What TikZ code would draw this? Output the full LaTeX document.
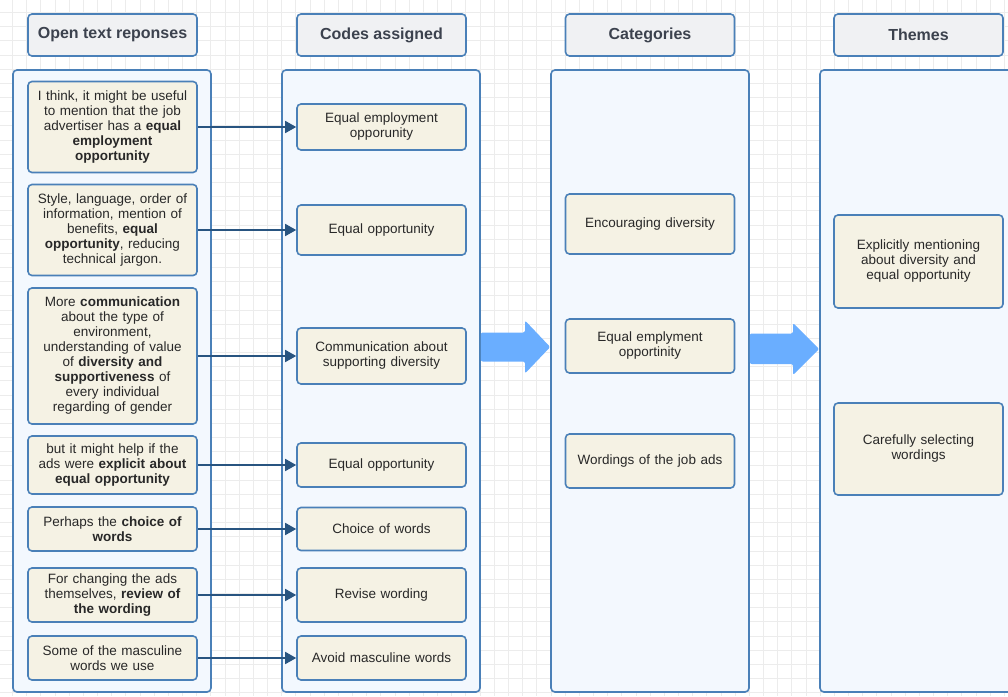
\documentclass[tikz,border=0pt]{standalone}
\usepackage{fontspec}
\setmainfont{Liberation Sans}
\usetikzlibrary{arrows.meta}
\definecolor{laneedge}{RGB}{74,128,184}
\definecolor{lanefill}{RGB}{243,248,254}
\definecolor{headfill}{RGB}{240,241,243}
\definecolor{headtext}{RGB}{60,66,78}
\definecolor{cardfill}{RGB}{245,242,228}
\definecolor{cardtext}{RGB}{40,40,40}
\definecolor{linkblue}{RGB}{40,84,128}
\definecolor{flowblue}{RGB}{106,174,255}
\definecolor{gridgrey}{RGB}{236,236,236}

\begin{document}
\begin{tikzpicture}[x=1pt, y=-1pt, >=Stealth,
    head/.style={draw=laneedge, fill=headfill, line width=1.6pt, rounded corners=4pt, minimum width=169pt, minimum height=42pt, text=headtext, font=\fontsize{16}{18}\selectfont\bfseries},
    lane/.style={draw=laneedge, fill=lanefill, line width=1.6pt, rounded corners=4pt, minimum width=198pt, minimum height=622pt},
    card/.style={draw=laneedge, fill=cardfill, line width=1.6pt, rounded corners=4pt, minimum width=169pt, text width=165pt, inner xsep=2pt, inner ysep=0pt, align=center, text=cardtext, font=\fontsize{13.5}{15}\selectfont},
    link/.style={linkblue, line width=1.6pt, -{Triangle[length=11pt, width=12pt]}},
    flow/.style={fill=flowblue, rounded corners=2pt},
    gridline/.style={gridgrey, line width=0.7pt}]
    \useasboundingbox (0,0) rectangle (1008,696);
    \clip (0,0) rectangle (1008,696);

    % Background grid
    \foreach \gx in {12.4,26.57,...,1008} \draw[gridline] (\gx,0) -- (\gx,696);
    \foreach \gy in {12.4,26.57,...,696} \draw[gridline] (0,\gy) -- (1008,\gy);

    % Column headings
    \node[head] (h1) at (112.5,35) {Open text reponses};
    \node[head] (h2) at (381.5,35) {Codes assigned};
    \node[head] (h3) at (650,35) {Categories};
    \node[head] (h4) at (918.5,35) {Themes};

    % Lanes
    \node[lane] (lane1) at (112,381) {};
    \node[lane] (lane2) at (381,381) {};
    \node[lane] (lane3) at (650,381) {};
    \node[lane] (lane4) at (919,381) {};

    % Open text responses
    \node[card, minimum height=91pt] (a1) at (112.5,127) {I think, it might be useful\\ to mention that the job\\ advertiser has a \textbf{equal}\\ \textbf{employment}\\ \textbf{opportunity}};
    \node[card, minimum height=91pt] (a2) at (112.5,230) {Style, language, order of\\ information, mention of\\ benefits, \textbf{equal}\\ \textbf{opportunity}, reducing\\ technical jargon.};
    \node[card, minimum height=136pt] (a3) at (112.5,356) {More \textbf{communication}\\ about the type of\\ environment,\\ understanding of value\\ of \textbf{diversity and}\\ \textbf{supportiveness} of\\ every individual\\ regarding of gender};
    \node[card, minimum height=58pt] (a4) at (112.5,465) {but it might help if the\\ ads were \textbf{explicit about}\\ \textbf{equal opportunity}};
    \node[card, minimum height=44pt] (a5) at (112.5,529) {Perhaps the \textbf{choice of}\\ \textbf{words}};
    \node[card, minimum height=54pt] (a6) at (112.5,595) {For changing the ads\\ themselves, \textbf{review of}\\ \textbf{the wording}};
    \node[card, minimum height=44pt] (a7) at (112.5,658) {Some of the masculine\\ words we use};

    % Codes assigned
    \node[card, minimum height=46pt] (c1) at (381.5,127) {Equal employment\\ opporunity};
    \node[card, minimum height=50pt] (c2) at (381.5,230) {Equal opportunity};
    \node[card, minimum height=56pt] (c3) at (381.5,356) {Communication about\\ supporting diversity};
    \node[card, minimum height=44pt] (c4) at (381.5,465) {Equal opportunity};
    \node[card, minimum height=43pt] (c5) at (381.5,529) {Choice of words};
    \node[card, minimum height=54pt] (c6) at (381.5,595) {Revise wording};
    \node[card, minimum height=44pt] (c7) at (381.5,658) {Avoid masculine words};

    % Categories
    \node[card, minimum height=60pt] (g1) at (650,224) {Encouraging diversity};
    \node[card, minimum height=54pt] (g2) at (650,346) {Equal emplyment\\ opportinity};
    \node[card, minimum height=54pt] (g3) at (650,461) {Wordings of the job ads};

    % Themes
    \node[card, minimum height=93pt] (t1) at (918.5,261.5) {Explicitly mentioning\\ about diversity and\\ equal opportunity};
    \node[card, minimum height=92pt] (t2) at (918.5,449) {Carefully selecting\\ wordings};

    % Responses to codes
    \foreach \i in {1,...,7} \draw[link] (a\i) -- (c\i);

    % Flow between lanes
    \fill[flow] (lane2.east |- 0,332.5) -- (525,332.5) -- (525,320.5) -- (lane3.west |- 0,347)
        -- (525,373.5) -- (525,361.5) -- (lane2.east |- 0,361.5) -- cycle;
    \fill[flow] (lane3.east |- 0,333.5) -- (793,333.5) -- (793,323) -- (lane4.west |- 0,349)
        -- (793,375) -- (793,364) -- (lane3.east |- 0,364) -- cycle;
\end{tikzpicture}
\end{document}
